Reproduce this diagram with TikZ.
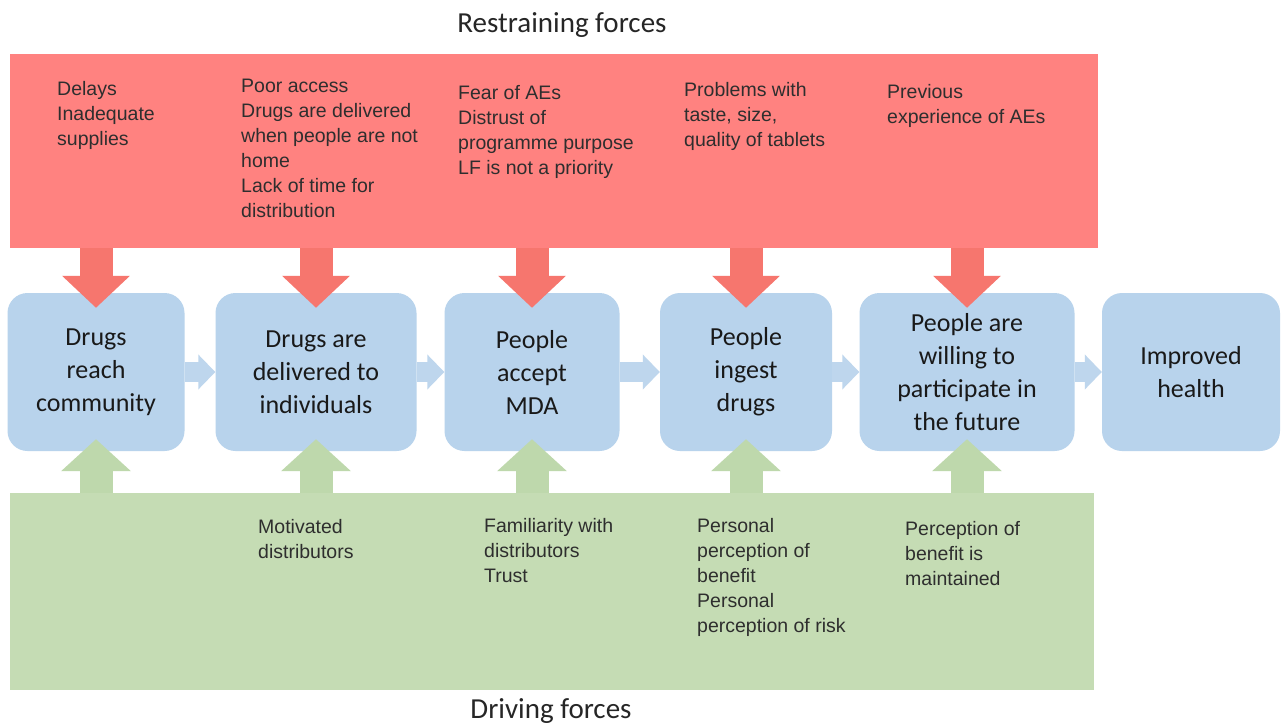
\documentclass[tikz,border=0pt]{standalone}
\usepackage{fontspec}
\setmainfont{Carlito}
\newfontfamily\forcefont{Liberation Sans}
\usepackage{xcolor}
\usetikzlibrary{positioning,calc,arrows.meta}

\definecolor{restrainred}{RGB}{255,130,128}
\definecolor{pushred}{RGB}{246,118,110}
\definecolor{drivegreen}{RGB}{197,220,180}
\definecolor{pullgreen}{RGB}{190,216,172}
\definecolor{stageblue}{RGB}{184,211,236}
\definecolor{flowblue}{RGB}{190,214,237}

\tikzset{
  band/.style={rectangle, anchor=north west, inner sep=0pt},
  stage/.style={rectangle, fill=stageblue, rounded corners=20pt, minimum height=158pt,
    align=center, inner sep=0pt, text=black!90, font=\fontsize{26}{33}\selectfont},
  reason/.style={anchor=north west, align=left, inner sep=0pt, text=black!82,
    font=\forcefont\fontsize{19.5}{25}\selectfont},
  heading/.style={font=\fontsize{29}{34}\selectfont, text=black!85},
  push/.style={draw=pushred, line width=33pt, -{Triangle[width=66pt,length=32pt]}},
  pull/.style={draw=pullgreen, line width=33pt, -{Triangle[width=68pt,length=32pt]}},
  flow/.style={draw=flowblue, line width=20pt, -{Triangle[width=34pt,length=17pt]}}
}

\begin{document}
\begin{tikzpicture}[x=1pt,y=-1pt]
    \useasboundingbox[fill=white] (0,0) rectangle (1282,726);

    % force bands
    \node[band, fill=restrainred, minimum width=1088pt, minimum height=194pt] (restrain) at (10,54) {};
    \node[band, fill=drivegreen, minimum width=1084pt, minimum height=197pt] (drive) at (10,493) {};
    \node[heading] (rtitle) at (562,25) {Restraining forces};
    \node[heading] (dtitle) at (551,711) {Driving forces};

    % stages
    \node[stage, minimum width=177pt] (s1) at (96,372) {Drugs\\reach\\community};
    \node[stage, minimum width=201pt] (s2) at (316,372) {Drugs are\\delivered to\\individuals};
    \node[stage, minimum width=175pt] (s3) at (532,372) {People\\accept\\MDA};
    \node[stage, minimum width=172pt] (s4) at (746,372) {People\\ingest\\drugs};
    \node[stage, minimum width=215pt] (s5) at (967,372) {People are\\willing to\\participate in\\the future};
    \node[stage, minimum width=178pt] (s6) at (1191,372) {Improved\\health};

    \draw[flow] (s1) -- (s2);
    \draw[flow] (s2) -- (s3);
    \draw[flow] (s3) -- (s4);
    \draw[flow] (s4) -- (s5);
    \draw[flow] (s5) -- (s6);

    % restraining and driving arrows
    \foreach \s in {s1,s2,s3,s4,s5} {
        \draw[push] (\s.north |- restrain.south) -- ($(\s.north)+(0,15)$);
        \draw[pull] (\s.south |- drive.north) -- ($(\s.south)+(0,-12)$);
    }

    % restraining texts
    \node[reason] (r1) at (57,81) {Delays\\Inadequate\\supplies};
    \node[reason] (r2) at (241,79) {Poor access\\Drugs are delivered\\when people are not\\home\\Lack of time for\\distribution};
    \node[reason] (r3) at (458,85) {Fear of AEs\\Distrust of\\programme purpose\\LF is not a priority};
    \node[reason] (r4) at (684,82) {Problems with\\taste, size,\\quality of tablets};
    \node[reason] (r5) at (887,84) {Previous\\experience of AEs};

    % driving texts
    \node[reason] (d2) at (258,519) {Motivated\\distributors};
    \node[reason] (d3) at (484,518) {Familiarity with\\distributors\\Trust};
    \node[reason] (d4) at (697,518) {Personal\\perception of\\benefit\\Personal\\perception of risk};
    \node[reason] (d5) at (905,521) {Perception of\\benefit is\\maintained};
\end{tikzpicture}
\end{document}
